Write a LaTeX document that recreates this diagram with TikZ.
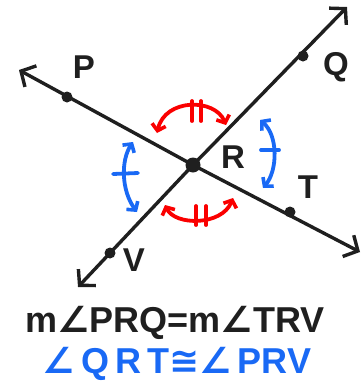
\documentclass[tikz,border=0pt]{standalone}
\usepackage{fontspec}
\setmainfont{Liberation Sans}
\newfontfamily\symfont{DejaVu Sans}
\usetikzlibrary{arrows.meta}
\definecolor{myblue}{RGB}{25,105,245}
\definecolor{myred}{RGB}{250,0,0}
\tikzset{
  ray/.style={line width=3.4pt, line cap=round, black!88,
    arrows={Straight Barb[length=11pt,width=24pt,line width=3.4pt]-Straight Barb[length=11pt,width=24pt,line width=3.4pt]}},
  dotp/.style={circle, fill=black!88, inner sep=0pt, minimum size=11pt},
  bigdot/.style={circle, fill=black!88, inner sep=0pt, minimum size=15pt},
  lbl/.style={font=\bfseries\fontsize{33}{33}\selectfont, text=black!88, inner sep=0pt},
  anglearc/.style={line width=3.8pt, line cap=round,
    arrows={Straight Barb[length=6pt,width=14pt,line width=3.6pt]-Straight Barb[length=6pt,width=14pt,line width=3.6pt]}},
  tickmark/.style={line width=3.8pt, line cap=round},
  eq/.style={font=\bfseries\fontsize{36}{36}\selectfont, inner sep=0pt},
}
\begin{document}
\begin{tikzpicture}[x=1pt,y=-1pt]
\useasboundingbox (0,0) rectangle (362,383);
% points
\coordinate (R) at (193,165);
\coordinate (Ptip) at (19,70);
\coordinate (Ttip) at (360,252);
\coordinate (Qtip) at (347,7);
\coordinate (Vtip) at (78,287);
% lines
\draw[ray] (Ptip) -- (R) -- (Ttip);
\draw[ray] (Qtip) -- (R) -- (Vtip);
% dots
\node[dotp] (P) at (67,97) {};
\node[dotp] (Q) at (303,56) {};
\node[dotp] (T) at (290,212) {};
\node[dotp] (V) at (110,253) {};
\node[bigdot] (Rd) at (R) {};
% labels
\node[lbl] (Pl) at (84,67) {P};
\node[lbl] (Ql) at (336,67) {Q};
\node[lbl] (Rl) at (233,157) {R};
\node[lbl] (Tl) at (308,187) {T};
\node[lbl] (Vl) at (134,260) {V};
% red arcs
\coordinate (r1a) at (157,133);
\coordinate (r1b) at (226,125);
\draw[anglearc, myred] (r1a) .. controls (165,98) and (215,98) .. (r1b);
\draw[tickmark, myred] (192,101) -- (192,121);
\draw[tickmark, myred] (201,101) -- (201,121);
\coordinate (r2a) at (165,205);
\coordinate (r2b) at (233,198);
\draw[anglearc, myred] (r2a) .. controls (175,226) and (222,226) .. (r2b);
\draw[tickmark, myred] (196,206) -- (196,225);
\draw[tickmark, myred] (206,206) -- (206,225);
% blue arcs
\coordinate (b1a) at (133,142);
\coordinate (b1b) at (137,212);
\draw[anglearc, myblue] (b1a) .. controls (121,160) and (121,190) .. (b1b);
\draw[tickmark, myblue] (113,174) -- (138,173);
\coordinate (b2a) at (260,120);
\coordinate (b2b) at (263,188);
\draw[anglearc, myblue] (b2a) .. controls (278,135) and (278,170) .. (b2b);
\draw[tickmark, myblue] (261,150) -- (279,150);
% equations
\node[eq, text=black!88] (e1) at (175,323) {m{\symfont\bfseries ∠}PRQ{=}m{\symfont\bfseries ∠}TRV};
\node[eq, text=myblue] (e2) at (177,364) {{\symfont\bfseries ∠}\,Q\,R\,T{\symfont\bfseries ≅}{\symfont\bfseries ∠}\,PRV};
\end{tikzpicture}
\end{document}
